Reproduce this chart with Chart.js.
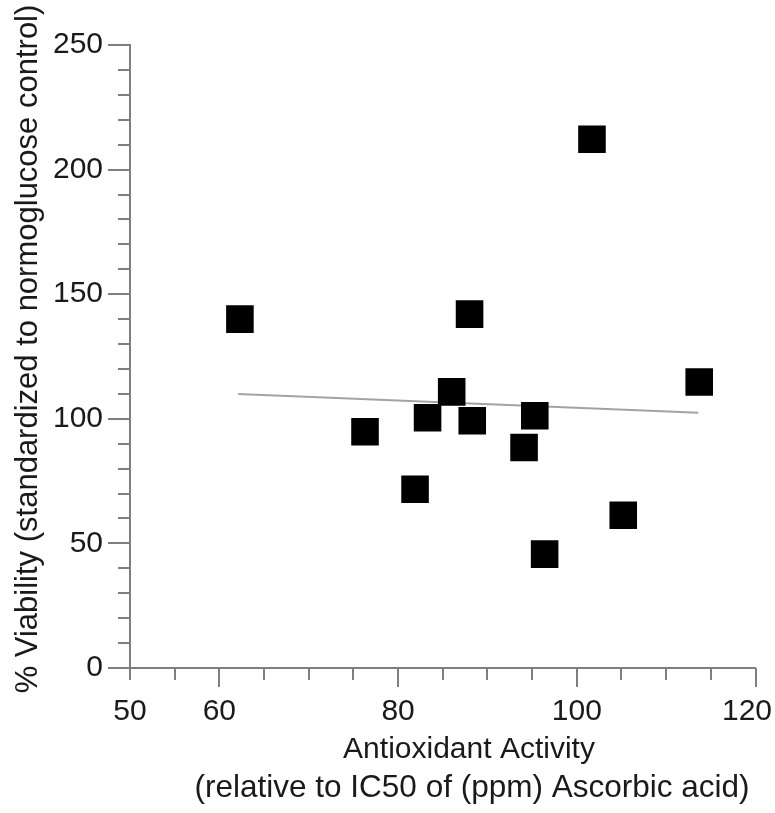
<!DOCTYPE html>
<html>
<head>
<meta charset="utf-8">
<title>Viability vs Antioxidant Activity</title>
<script src="https://cdn.jsdelivr.net/npm/chart.js@4.4.1/dist/chart.umd.min.js"></script>
<style>
  html, body { margin: 0; padding: 0; background: #fff; }
  #wrap { width: 775px; height: 813px; }
</style>
</head>
<body>
<div id="wrap"><canvas id="scatter" width="775" height="813"></canvas></div>
<script>
// Antioxidant activity (x) and % viability (y) per extract
const activity  = [62.3, 76.3, 81.9, 83.3, 86.0, 88.0, 88.3, 94.1, 95.3, 96.4, 101.7, 105.2, 113.7];
const viability = [140.0, 94.8, 71.7, 100.4, 110.8, 142.0, 99.2, 88.5, 101.2, 45.7, 212.2, 61.3, 114.8];

// Linear fit, drawn between its two end points
const fitX = [62.1, 113.6];
const fitY = [110.0, 102.4];

// Axis ticks
const xTicks  = [50, 55, 60, 65, 70, 75, 80, 85, 90, 95, 100, 105, 110, 115, 120];
const xLabels = [50, 60, 80, 100, 120];
const xMajor  = [60, 80, 100, 120];
const yTicks  = [0, 10, 20, 30, 40, 50, 60, 70, 80, 90, 100, 110, 120, 130, 140, 150,
                 160, 170, 180, 190, 200, 210, 220, 230, 240, 250];
const yLabels = [0, 50, 100, 150, 200, 250];

const yTitle  = '% Viability (standardized to normoglucose control)';
const xTitle1 = 'Antioxidant Activity';
const xTitle2 = '(relative to IC50 of (ppm) Ascorbic acid)';

const FONT = '"Liberation Sans", Arial, sans-serif';
const AXIS = '#7f7f7f';
const TEXT = '#1a1a1a';

Chart.defaults.font.family = FONT;

// tick marks of two lengths, x labels and both axis titles
const axisDecor = {
    id: 'axisDecor',
    afterDraw(chart) {
        const { ctx, chartArea: a, scales: { x, y } } = chart;
        ctx.save();

        ctx.strokeStyle = AXIS;
        ctx.lineWidth = 2;
        ctx.beginPath();
        xTicks.forEach(v => {
            const px = Math.round(x.getPixelForValue(v));
            const len = xMajor.includes(v) ? 19 : 12;
            ctx.moveTo(px, a.bottom);
            ctx.lineTo(px, a.bottom + len);
        });
        yTicks.forEach(v => {
            const py = Math.round(y.getPixelForValue(v));
            const len = yLabels.includes(v) ? 22 : 12;
            ctx.moveTo(a.left, py);
            ctx.lineTo(a.left - len, py);
        });
        ctx.stroke();

        ctx.fillStyle = TEXT;
        ctx.font = '30px ' + FONT;
        ctx.textAlign = 'center';
        ctx.textBaseline = 'alphabetic';
        xLabels.forEach(v => {
            const t = String(v);
            const w = ctx.measureText(t).width;
            // keep the last label inside the canvas
            const px = Math.min(x.getPixelForValue(v), chart.width - 3 - w / 2);
            ctx.fillText(t, px, a.bottom + 52);
        });

        ctx.fillText(xTitle1, 469, 758);
        ctx.font = '31.5px ' + FONT;
        ctx.fillText(xTitle2, 472, 797);

        ctx.font = '31px ' + FONT;
        ctx.translate(37, 349);
        ctx.rotate(-Math.PI / 2);
        ctx.fillText(yTitle, 0, 0);

        ctx.restore();
    }
};

new Chart(document.getElementById('scatter'), {
    type: 'scatter',
    data: {
        datasets: [{
            data: activity.map((v, i) => ({ x: v, y: viability[i] })),
            pointStyle: 'rect',
            pointRadius: 19.5,
            backgroundColor: '#000',
            borderColor: '#000',
            borderWidth: 0
        }, {
            data: fitX.map((v, i) => ({ x: v, y: fitY[i] })),
            showLine: true,
            pointRadius: 0,
            borderColor: '#a3a3a3',
            borderWidth: 2
        }]
    },
    options: {
        responsive: false,
        animation: false,
        layout: { padding: { top: 43, right: 18, bottom: 145, left: 0 } },
        plugins: {
            legend: { display: false },
            tooltip: { enabled: false }
        },
        scales: {
            x: {
                type: 'linear',
                min: 50,
                max: 120,
                afterBuildTicks: s => { s.ticks = xTicks.map(v => ({ value: v })); },
                afterFit: s => { s.height = 0; },
                grid: { display: false, drawTicks: false },
                border: { display: true, color: AXIS, width: 2 },
                ticks: { display: false }
            },
            y: {
                min: 0,
                max: 250,
                afterBuildTicks: s => { s.ticks = yTicks.map(v => ({ value: v })); },
                afterFit: s => { s.width = 130; },
                grid: { display: false, drawTicks: false },
                border: { display: true, color: AXIS, width: 2 },
                ticks: {
                    padding: 27,
                    color: TEXT,
                    font: { size: 30 },
                    autoSkip: false,
                    callback: v => (yLabels.includes(v) ? String(v) : '')
                }
            }
        }
    },
    plugins: [axisDecor]
});
</script>
</body>
</html>
